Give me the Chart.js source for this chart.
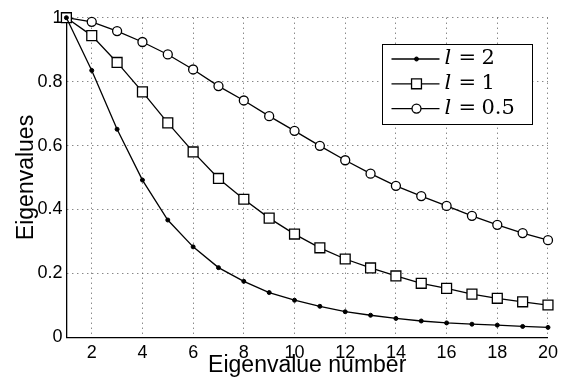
<!DOCTYPE html>
<html>
<head>
<meta charset="utf-8">
<script src="https://cdn.jsdelivr.net/npm/chart.js@4.4.1/dist/chart.umd.min.js"></script>
<style>
  html, body { margin: 0; padding: 0; background: #fff; }
  canvas { display: block; }
</style>
</head>
<body>
<canvas id="eigChart" width="563" height="380"></canvas>
<script>
// Eigenvalue index
const xValues = [1, 2, 3, 4, 5, 6, 7, 8, 9, 10, 11, 12, 13, 14, 15, 16, 17, 18, 19, 20];
const xTicks = [2, 4, 6, 8, 10, 12, 14, 16, 18, 20];
const yTicks = [0, 0.2, 0.4, 0.6, 0.8, 1];

// Legend values of l
const lLabels = ["2", "1", "0.5"];

// Normalised eigenvalues
const eigL2 = [1.0, 0.835, 0.651, 0.492, 0.367, 0.283, 0.218, 0.175, 0.140, 0.116,
               0.097, 0.080, 0.069, 0.059, 0.051, 0.045, 0.041, 0.038, 0.034, 0.031];
const eigL1 = [1.0, 0.944, 0.860, 0.768, 0.671, 0.580, 0.497, 0.432, 0.373, 0.323,
               0.280, 0.245, 0.217, 0.192, 0.169, 0.153, 0.135, 0.122, 0.111, 0.101];
const eigL05 = [1.0, 0.987, 0.958, 0.924, 0.885, 0.838, 0.786, 0.741, 0.692, 0.646,
                0.599, 0.554, 0.512, 0.474, 0.442, 0.411, 0.380, 0.352, 0.326, 0.304];

const toPoints = (ys) => ys.map((y, i) => ({ x: xValues[i], y: y }));

// Draw marker shapes for the boxed legend
function drawMarker(ctx, style, r, x, y) {
    ctx.beginPath();
    if (style === "rect") {
        const s = r * Math.SQRT1_2;
        ctx.rect(x - s, y - s, 2 * s, 2 * s);
    } else {
        ctx.arc(x, y, r, 0, Math.PI * 2);
    }
    ctx.fill();
    ctx.stroke();
}

// Boxed legend in the upper right, MATLAB style
const boxLegend = {
    id: "boxLegend",
    afterDraw(chart) {
        const ctx = chart.ctx;
        const area = chart.chartArea;
        const x0 = Math.round(area.right - 166) + 0.5;
        const y0 = Math.round(area.top + 26) + 0.5;
        const w = 150, h = 80;
        ctx.save();
        ctx.fillStyle = "#fff";
        ctx.fillRect(x0, y0, w, h);
        ctx.strokeStyle = "#000";
        ctx.lineWidth = 1;
        ctx.strokeRect(x0, y0, w, h);
        chart.data.datasets.forEach((ds, i) => {
            const cy = y0 + 14.5 + i * 24.8;
            ctx.strokeStyle = "#000";
            ctx.lineWidth = ds.borderWidth;
            ctx.beginPath();
            ctx.moveTo(x0 + 9, cy);
            ctx.lineTo(x0 + 57, cy);
            ctx.stroke();
            ctx.fillStyle = ds.pointBackgroundColor;
            ctx.lineWidth = ds.pointBorderWidth;
            drawMarker(ctx, ds.pointStyle, ds.pointRadius, x0 + 34, cy);
            ctx.fillStyle = "#000";
            ctx.textBaseline = "middle";
            ctx.textAlign = "left";
            ctx.font = 'italic 21px "DejaVu Serif"';
            ctx.fillText("l", x0 + 62, cy);
            ctx.font = '21px "DejaVu Serif"';
            ctx.fillText("=", x0 + 76, cy);
            ctx.fillText(lLabels[i], x0 + 99, cy);
        });
        ctx.restore();
    }
};

const ctx = document.getElementById("eigChart").getContext("2d");

new Chart(ctx, {
    type: "line",
    data: {
        datasets: [
            {
                label: "l = " + lLabels[0],
                data: toPoints(eigL2),
                borderColor: "#000",
                borderWidth: 1.3,
                pointStyle: "circle",
                pointRadius: 2,
                pointBackgroundColor: "#000",
                pointBorderColor: "#000",
                pointBorderWidth: 1
            },
            {
                label: "l = " + lLabels[1],
                data: toPoints(eigL1),
                borderColor: "#000",
                borderWidth: 1.3,
                pointStyle: "rect",
                pointRadius: 7,
                pointBackgroundColor: "#fff",
                pointBorderColor: "#000",
                pointBorderWidth: 1.3
            },
            {
                label: "l = " + lLabels[2],
                data: toPoints(eigL05),
                borderColor: "#000",
                borderWidth: 1.3,
                pointStyle: "circle",
                pointRadius: 4.5,
                pointBackgroundColor: "#fff",
                pointBorderColor: "#000",
                pointBorderWidth: 1.3
            }
        ]
    },
    options: {
        responsive: false,
        animation: false,
        clip: false,
        layout: {
            padding: { top: 17.7, right: 9.7, left: 0, bottom: 0 }
        },
        plugins: {
            legend: { display: false },
            tooltip: { enabled: false }
        },
        elements: {
            line: { tension: 0 }
        },
        scales: {
            x: {
                type: "linear",
                min: 1,
                max: 20,
                afterBuildTicks: (scale) => {
                    scale.ticks = xTicks.map((v) => ({ value: v }));
                },
                afterFit: (scale) => { scale.height = 42.7; },
                ticks: {
                    color: "#000",
                    padding: 5,
                    maxRotation: 0,
                    font: { family: "Liberation Sans", size: 18 }
                },
                grid: {
                    color: "#555",
                    lineWidth: 1,
                    drawTicks: false
                },
                border: { display: true, color: "#000", width: 1.3, dash: [1, 4] },
                title: {
                    display: true,
                    text: "Eigenvalue number",
                    color: "#000",
                    padding: { top: 0, bottom: 1 },
                    font: { family: "Liberation Sans", size: 23 }
                }
            },
            y: {
                type: "linear",
                min: 0,
                max: 1,
                afterBuildTicks: (scale) => {
                    scale.ticks = yTicks.map((v) => ({ value: v }));
                },
                afterFit: (scale) => { scale.width = 66.4; },
                ticks: {
                    color: "#000",
                    padding: 4,
                    callback: (v) => String(Math.round(v * 10) / 10),
                    font: { family: "Liberation Sans", size: 18 }
                },
                grid: {
                    color: "#555",
                    lineWidth: 1,
                    drawTicks: false
                },
                border: { display: true, color: "#000", width: 1.3, dash: [1, 4] },
                title: {
                    display: true,
                    text: "Eigenvalues",
                    color: "#000",
                    padding: { top: 13, bottom: 0 },
                    font: { family: "Liberation Sans", size: 23 }
                }
            }
        }
    },
    plugins: [boxLegend]
});
</script>
</body>
</html>
